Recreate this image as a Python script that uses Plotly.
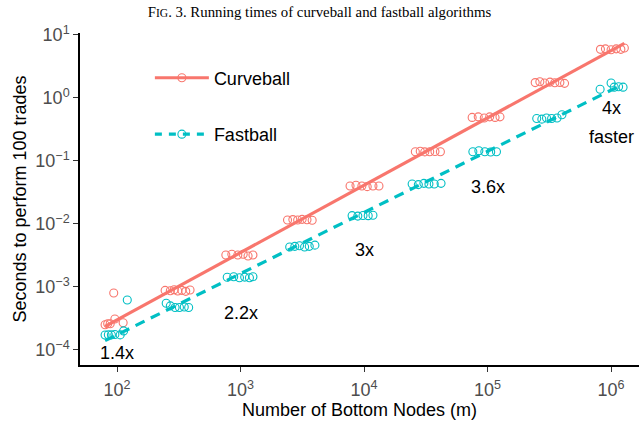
import numpy as np
import plotly.graph_objects as go

# ---------------- data ----------------
curve_m = [80, 84, 88, 96, 112, 94,
           245, 270, 290, 310, 335, 360, 390,
           760, 850, 950, 1050, 1150, 1260,
           2400, 2650, 2900, 3150, 3450, 3800,
           7700, 8600, 9600, 10600, 11800, 13200,
           26000, 28500, 31000, 34000, 37500, 41500,
           75000, 84000, 94000, 104000, 115000, 126000,
           243000, 265000, 290000, 320000, 350000, 385000, 420000,
           820000, 900000, 1000000, 1100000, 1200000, 1280000]
curve_t = [2.5e-4, 2.6e-4, 2.6e-4, 3.1e-4, 2.7e-4, 8.0e-4,
           8.8e-4, 8.7e-4, 9.0e-4, 8.6e-4, 8.8e-4, 8.5e-4, 8.9e-4,
           3.2e-3, 3.3e-3, 3.2e-3, 3.3e-3, 3.1e-3, 3.2e-3,
           1.15e-2, 1.17e-2, 1.15e-2, 1.18e-2, 1.16e-2, 1.14e-2,
           4.0e-2, 4.1e-2, 4.0e-2, 3.9e-2, 4.0e-2, 4.0e-2,
           0.140, 0.142, 0.139, 0.140, 0.141, 0.140,
           0.49, 0.50, 0.48, 0.50, 0.49, 0.50,
           1.75, 1.80, 1.72, 1.78, 1.74, 1.76, 1.70,
           5.9, 6.0, 5.8, 6.0, 5.9, 6.2]

fast_m = [80, 85, 90, 96, 106, 113, 121,
          250, 270, 295, 320, 350, 380,
          780, 880, 980, 1080, 1180, 1260,
          2500, 2750, 3000, 3300, 3600, 4000,
          8000, 8900, 9800, 10800, 11800,
          24500, 27500, 30500, 33500, 37000, 42000,
          76000, 85000, 95000, 106000, 118000,
          250000, 275000, 300000, 330000, 365000, 400000,
          815000, 1000000, 1060000, 1150000, 1250000]
fast_t = [1.72e-4, 1.74e-4, 1.73e-4, 1.75e-4, 1.73e-4, 2.0e-4, 6.2e-4,
          5.5e-4, 5.0e-4, 4.7e-4, 4.7e-4, 4.8e-4, 4.7e-4,
          1.42e-3, 1.45e-3, 1.40e-3, 1.43e-3, 1.40e-3, 1.45e-3,
          4.3e-3, 4.4e-3, 4.5e-3, 4.3e-3, 4.4e-3, 4.6e-3,
          1.35e-2, 1.33e-2, 1.36e-2, 1.35e-2, 1.37e-2,
          4.3e-2, 4.2e-2, 4.4e-2, 4.3e-2, 4.3e-2, 4.4e-2,
          0.140, 0.145, 0.140, 0.138, 0.140,
          0.47, 0.46, 0.48, 0.47, 0.48, 0.54,
          1.37, 1.72, 1.48, 1.50, 1.48]

speedup_m = [100, 1000, 10000, 100000, 1000000, 1000000]
speedup_t = [9.0e-5, 3.9e-4, 3.9e-3, 3.8e-2, 0.69, 0.236]
speedup_text = ["1.4x", "2.2x", "3x", "3.6x", "4x", "faster"]

x_tickvals = [1e2, 1e3, 1e4, 1e5, 1e6]
x_ticktext = ["10<sup>2</sup>", "10<sup>3</sup>", "10<sup>4</sup>", "10<sup>5</sup>", "10<sup>6</sup>"]
y_tickvals = [1e-4, 1e-3, 1e-2, 1e-1, 1e0, 1e1]
y_ticktext = ["10<sup>\u22124</sup>", "10<sup>\u22123</sup>", "10<sup>\u22122</sup>",
              "10<sup>\u22121</sup>", "10<sup>0</sup>", "10<sup>1</sup>"]

RED = "#F8766D"
CYAN = "#00BFC4"
FONT = "Liberation Sans, Arial, sans-serif"


def loglog_fit(m, t):
    lm = np.log10(np.asarray(m, float))
    lt = np.log10(np.asarray(t, float))
    b, a = np.polyfit(lm, lt, 1)
    xs = np.array([lm.min(), lm.max()])
    return 10 ** xs, 10 ** (a + b * xs)


fig = go.Figure()

cx, cy = loglog_fit(curve_m, curve_t)
fx, fy = loglog_fit(fast_m, fast_t)

fig.add_trace(go.Scatter(x=curve_m, y=curve_t, mode="markers", showlegend=False,
                         marker=dict(symbol="circle-open", size=8, color=RED,
                                     line=dict(width=1.1, color=RED))))
fig.add_trace(go.Scatter(x=fast_m, y=fast_t, mode="markers", showlegend=False,
                         marker=dict(symbol="circle-open", size=8, color=CYAN,
                                     line=dict(width=1.1, color=CYAN))))
fig.add_trace(go.Scatter(x=cx, y=cy, mode="lines", showlegend=False,
                         line=dict(color=RED, width=3.2)))
fig.add_trace(go.Scatter(x=fx, y=fy, mode="lines", showlegend=False,
                         line=dict(color=CYAN, width=3.2, dash="10px,7px")))

# legend entries (line + marker)
fig.add_trace(go.Scatter(x=[None], y=[None], mode="lines+markers", name="Curveball",
                         legendgroup="c",
                         line=dict(color=RED, width=3.2),
                         marker=dict(symbol="circle-open", size=8, color=RED,
                                     line=dict(width=1.1, color=RED))))
fig.add_trace(go.Scatter(x=[None], y=[None], mode="lines+markers", name="Fastball",
                         legendgroup="f",
                         line=dict(color=CYAN, width=3.2, dash="7px,7px"),
                         marker=dict(symbol="circle-open", size=8, color=CYAN,
                                     line=dict(width=1.1, color=CYAN))))

for xm, yt, tx in zip(speedup_m, speedup_t, speedup_text):
    fig.add_annotation(x=np.log10(xm), y=np.log10(yt), text=tx, showarrow=False,
                       xanchor="center", yanchor="middle",
                       font=dict(family=FONT, size=18, color="black"))

fig.update_layout(
    width=639, height=425,
    margin=dict(l=80, r=0, t=33, b=60, autoexpand=False),
    paper_bgcolor="white", plot_bgcolor="white",
    font=dict(family=FONT, size=18, color="black"),
    title=dict(text='F<span style="font-size:11.5px">IG</span>. 3. Running times of curveball and fastball algorithms',
               x=0.5, xref="container", xanchor="center",
               y=1 - 12 / 425, yref="container", yanchor="middle",
               font=dict(family="Liberation Serif, Times New Roman, serif", size=14.8, color="black")),
    legend=dict(x=0.125, y=0.92, xanchor="left", yanchor="top",
                bgcolor="rgba(0,0,0,0)", borderwidth=0,
                traceorder="grouped", tracegroupgap=30, itemwidth=54,
                font=dict(family=FONT, size=18, color="black")),
)

fig.update_xaxes(type="log", range=[1.70, 6.226], automargin=False,
                 tickvals=x_tickvals, ticktext=x_ticktext,
                 showline=True, linecolor="black", linewidth=1.5, mirror=False,
                 ticks="outside", ticklen=5, tickwidth=1.2, tickcolor="#333333",
                 ticklabelstandoff=3,
                 tickfont=dict(family=FONT, size=18, color="#4D4D4D"),
                 showgrid=False, zeroline=False,
                 title=dict(text="Number of Bottom Nodes (m)", standoff=0,
                            font=dict(family=FONT, size=18, color="black")))
fig.update_yaxes(type="log", range=[-4.24, 1.03], automargin=False,
                 tickvals=y_tickvals, ticktext=y_ticktext,
                 showline=True, linecolor="black", linewidth=1.5, mirror=False,
                 ticks="outside", ticklen=5, tickwidth=1.2, tickcolor="#333333",
                 tickfont=dict(family=FONT, size=18, color="#4D4D4D"),
                 showgrid=False, zeroline=False,
                 title=dict(text="Seconds to perform 100 trades", standoff=4,
                            font=dict(family=FONT, size=18, color="black")))

fig.write_html("out.html", config={"displayModeBar": False},
               post_script="document.body.style.margin='0';document.body.style.overflow='hidden';")
